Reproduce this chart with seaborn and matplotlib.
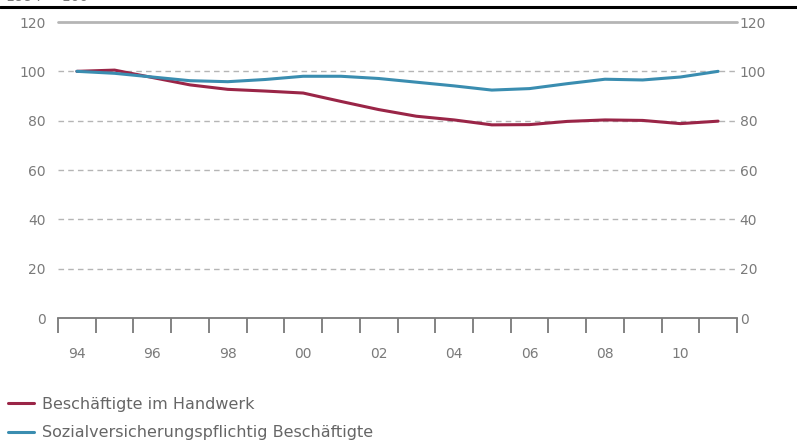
import numpy as np
import pandas as pd
import matplotlib.pyplot as plt
from matplotlib.lines import Line2D
import seaborn as sns

years = list(range(1994, 2012))
handwerk = [100, 100.5, 97.5, 94.5, 92.7, 92.0, 91.2, 87.8, 84.5, 81.8, 80.3, 78.3, 78.4, 79.7, 80.3, 80.1, 78.8, 79.8]
svb = [100, 99.2, 97.7, 96.2, 95.8, 96.7, 98.0, 98.0, 97.1, 95.6, 94.1, 92.4, 93.0, 95.0, 96.8, 96.5, 97.7, 100.0]
series_names = ['Beschäftigte im Handwerk', 'Sozialversicherungspflichtig Beschäftigte']
y_ticks = [0, 20, 40, 60, 80, 100, 120]
x_labels = ['94', '96', '98', '00', '02', '04', '06', '08', '10']

red = '#9a2547'
blue = '#3a8db0'
grey = '#7a7a7a'

df = pd.DataFrame({
    'pos': list(range(len(years))) * 2,
    'wert': handwerk + svb,
    'reihe': [series_names[0]] * len(years) + [series_names[1]] * len(years),
})

sns.set_style('white')
plt.rcParams['font.family'] = ['DejaVu Sans']

fig = plt.figure(figsize=(7.97, 4.44), dpi=100)
ax = fig.add_axes([58 / 797, 1 - 318 / 444, 679 / 797, 296 / 444])

sns.lineplot(data=df, x='pos', y='wert', hue='reihe', palette=[red, blue],
             linewidth=2.2, ax=ax, legend=False, zorder=3)

ax.set_xlim(-0.5, len(years) - 0.5)
ax.set_ylim(0, 120)
ax.set_xlabel('')
ax.set_ylabel('')

# grid lines
for v in y_ticks[1:]:
    if v == 120:
        ax.axhline(v, color='#b5b5b5', lw=2, zorder=1, clip_on=False)
    else:
        ax.axhline(v, color='#b5b5b5', lw=1, ls=(0, (4, 3)), zorder=1)

for s in ['top', 'right', 'left']:
    ax.spines[s].set_visible(False)
ax.spines['bottom'].set_color(grey)
ax.spines['bottom'].set_linewidth(1.3)

ax.set_xticks(np.arange(-0.5, len(years), 1))
ax.set_xticklabels([])
ax.set_xticks(np.arange(0, len(years), 2), minor=True)
ax.set_xticklabels(x_labels, minor=True)
ax.tick_params(axis='x', which='major', bottom=True, direction='out', length=11, width=1.3, color=grey)
ax.tick_params(axis='x', which='minor', bottom=True, length=0, pad=21, labelsize=10, labelcolor=grey)

ax.set_yticks(y_ticks)
ax.tick_params(axis='y', length=0, pad=9, labelsize=10, labelcolor=grey)

ax2 = ax.twinx()
ax2.set_ylim(0, 120)
ax2.set_yticks(y_ticks)
ax2.tick_params(axis='y', length=0, pad=2, labelsize=10, labelcolor=grey)
for s in ax2.spines.values():
    s.set_visible(False)

# top rule and clipped heading
fig.add_artist(Line2D([0, 1], [1 - 7 / 444, 1 - 7 / 444], color='black', lw=2.2))
fig.text(0.008, 1 - 4 / 444, '1994 = 100', fontsize=10, color=grey, va='bottom', ha='left')

handles = [Line2D([], [], color=red, lw=2.2), Line2D([], [], color=blue, lw=2.2)]
fig.legend(handles, series_names, loc='lower left', bbox_to_anchor=(-0.002, -6 / 444),
           frameon=False, fontsize=11.5, labelcolor='#666666', handlelength=1.6,
           handletextpad=0.5, labelspacing=0.85, borderaxespad=0.2)

fig.savefig('out.png', dpi=100)
